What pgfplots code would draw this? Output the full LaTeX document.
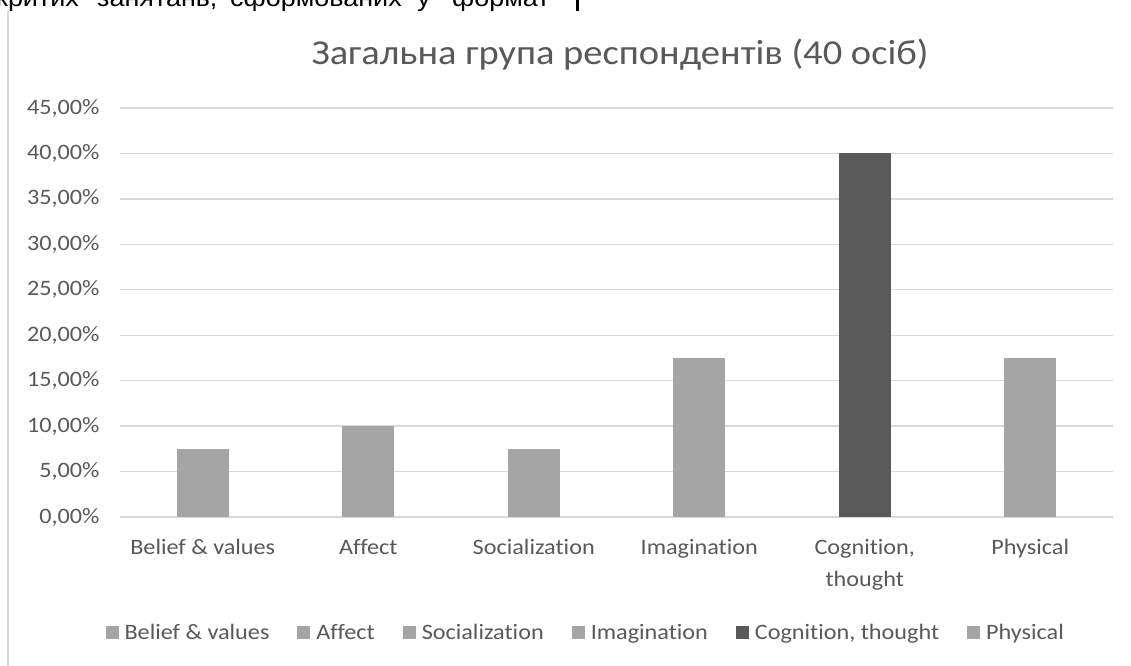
\documentclass[border=0pt]{standalone}
\usepackage{pgfplots}
\pgfplotsset{compat=1.18}
\usepackage{fontspec}
\setmainfont{Carlito}[FakeStretch=1.1, Ligatures=NoCommon]
\newfontfamily\arial{Liberation Sans}[FakeStretch=1.1]
\definecolor{barL}{HTML}{A5A5A5}
\definecolor{barD}{HTML}{595959}
\definecolor{txt}{HTML}{595959}
\definecolor{gridc}{HTML}{D9D9D9}
\begin{document}
\begin{tikzpicture}[x=1bp,y=1bp]
\useasboundingbox[fill=white] (0,0) rectangle (1131,666);
% chart border
\draw[color=gridc, line width=2bp] (8,0) -- (8,655);
% cut-off text above the chart
\begin{scope}[every node/.style={anchor=base west, inner sep=0pt, font=\arial\fontsize{24.5bp}{28bp}\selectfont}]
\node at (-4,659) {критих};
\node at (97,659) {занятань,};
\node at (230,659) {сформованих};
\node at (417,659) {у};
\node at (452,659) {формат};
\end{scope}
\fill[black] (575.5,655) rectangle (578.5,670);
% title
\node[anchor=base, inner sep=0pt, text=txt, font=\fontsize{35bp}{40bp}\selectfont] at (620,601) {Загальна група респондентів (40 осіб)};
\begin{axis}[
  at={(120bp,149bp)}, anchor=south west,
  scale only axis, width=993bp, height=409bp,
  xmin=-0.5, xmax=5.5, ymin=0, ymax=45,
  axis line style={draw=none},
  major tick length=0pt,
  ytick={0,5,...,45},
  ymajorgrids, grid style={color=gridc, line width=1.3bp},
  /pgf/number format/assume math mode=true,
  yticklabel={\pgfmathprintnumber[fixed,fixed zerofill,precision=2,use comma]{\tick}\%},
  yticklabel style={font=\fontsize{22bp}{26bp}\selectfont, text=txt, xshift=-17bp},
  xtick={0,1,2,3,4,5},
  xticklabels={Belief \& values, Affect, Socialization, Imagination, {Cognition,\\thought}, Physical},
  xticklabel style={font=\fontsize{22bp}{32bp}\selectfont, text=txt, align=center, yshift=-19bp},
  legend columns=6,
  legend style={draw=none, fill=none, at={(0.469,-0.2836)}, anchor=center,
    font=\fontsize{22bp}{26bp}\selectfont, text=txt,
    /tikz/every even column/.append style={column sep=26bp}},
  legend image code/.code={\fill[#1,draw=none] (0bp,-6.5bp) rectangle (13bp,6.5bp); \path (17bp,0bp);},
]
\addplot[ybar, bar width=52bp, bar shift=0pt, fill=barL, draw=none] coordinates {(0,7.5)};
\addplot[ybar, bar width=52bp, bar shift=0pt, fill=barL, draw=none] coordinates {(1,10)};
\addplot[ybar, bar width=52bp, bar shift=0pt, fill=barL, draw=none] coordinates {(2,7.5)};
\addplot[ybar, bar width=52bp, bar shift=0pt, fill=barL, draw=none] coordinates {(3,17.5)};
\addplot[ybar, bar width=52bp, bar shift=0pt, fill=barD, draw=none] coordinates {(4,40)};
\addplot[ybar, bar width=52bp, bar shift=0pt, fill=barL, draw=none] coordinates {(5,17.5)};
\legend{Belief \& values, Affect, Socialization, Imagination, {Cognition, thought}, Physical}
\end{axis}
\end{tikzpicture}
\end{document}
